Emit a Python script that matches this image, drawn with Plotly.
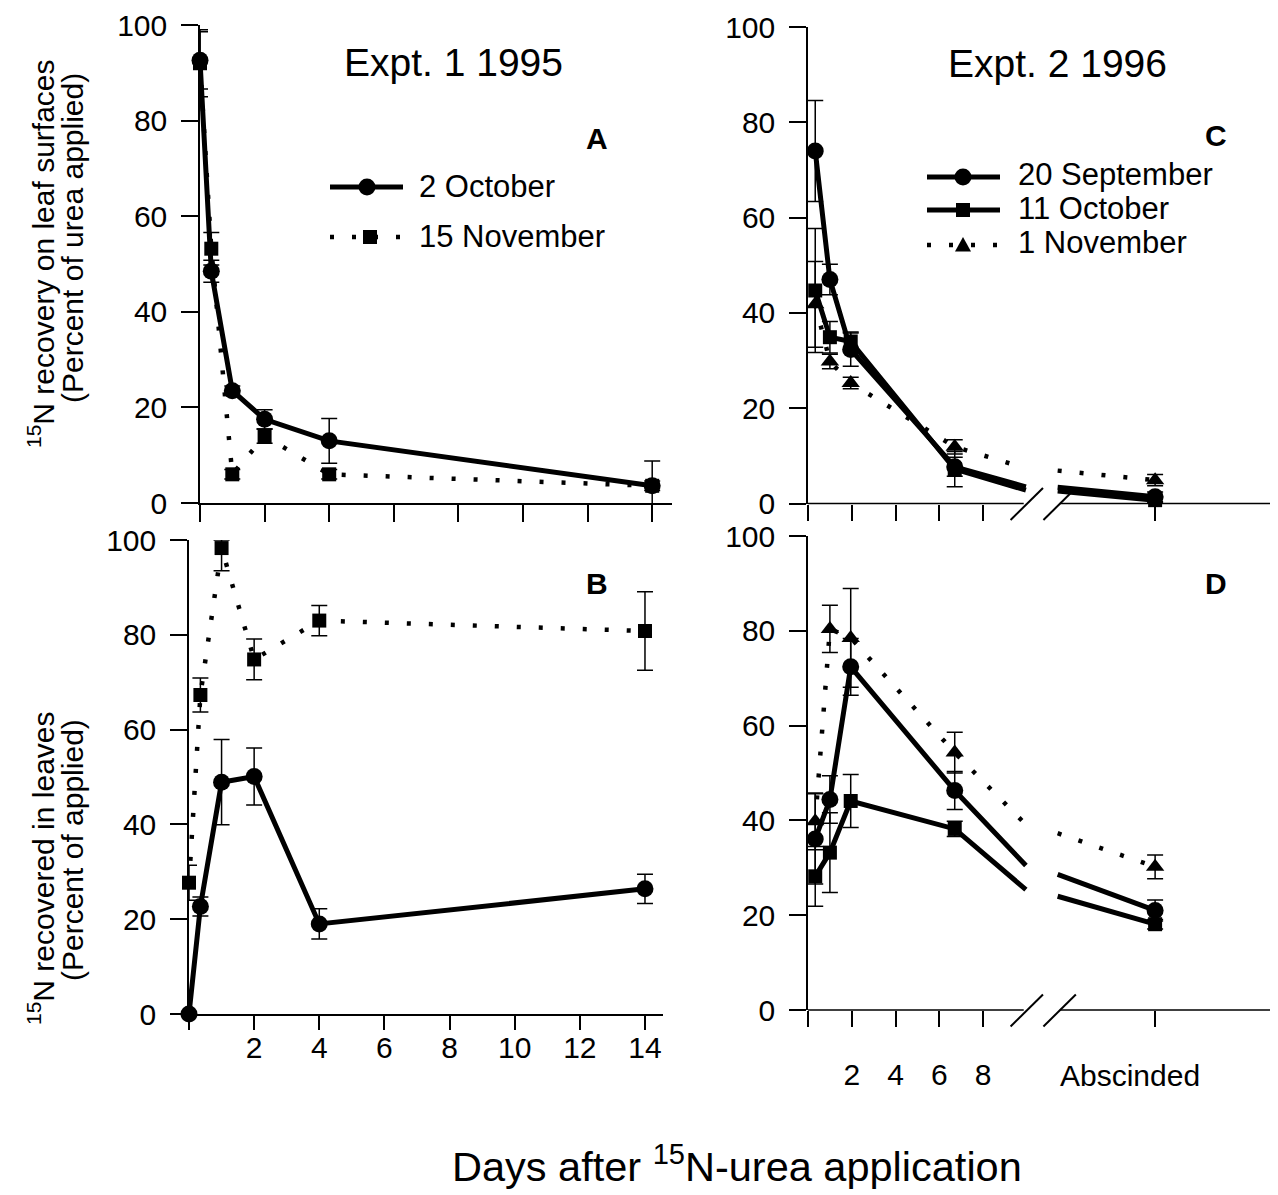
import plotly.graph_objects as go

W, H = 1278, 1195          # target screenshot size
OFF = 8                    # page body margin of the browser
FW, FH = W - OFF, H - OFF  # figure size so that it ends at the window edge
FONT = "Liberation Sans, Arial, Helvetica, sans-serif"

# ---------------- data ----------------
# Expt. 1 1995 (x = days after application)
days_expt1 = [0, 0.35, 1, 2, 4, 14]
expt1_ticks = [2, 4, 6, 8, 10, 12, 14]
a_oct2 = [92.6, 48.5, 23.5, 17.5, 13.0, 3.6]
a_oct2_err = [6.0, 2.3, 1.0, 2.0, 4.7, 5.2]
a_nov15 = [92.0, 53.2, 6.0, 14.0, 6.0, 3.6]
a_nov15_err = [7.0, 3.4, 1.0, 1.5, 1.0, 1.0]

b_oct2 = [0.0, 22.7, 48.9, 50.1, 19.0, 26.4]
b_oct2_err = [0.0, 2.0, 9.0, 6.0, 3.2, 3.1]
b_nov15 = [27.7, 67.3, 98.3, 74.8, 83.0, 80.8]
b_nov15_err_plus = [3.7, 3.6, 1.7, 4.3, 3.2, 8.3]
b_nov15_err_minus = [3.7, 3.6, 4.8, 4.3, 3.2, 8.3]

# Expt. 2 1996 (last x value is the "Abscinded" position past the axis break)
days_expt2 = [0.33, 1, 1.95, 6.7, 15.85]
break_x = [9.95, 11.4]          # line vertices on either side of the axis break
expt2_ticks = [2, 4, 6, 8]

c_sep20 = [74.0, 47.0, 32.3, 7.7, 1.4]
c_sep20_err = [10.6, 3.2, 3.5, 2.0, 1.0]
c_sep20_brk = [3.5, 3.4]
c_oct11 = [44.7, 34.9, 34.0, 7.2, 0.7]
c_oct11_err = [13.0, 3.3, 2.0, 3.7, 0.5]
c_oct11_brk = [2.8, 2.6]
c_nov1 = [41.8, 29.8, 25.3, 11.9, 4.9]
c_nov1_err = [9.0, 1.5, 1.2, 1.5, 1.2]
c_nov1_brk = [7.4, 6.9]

d_sep20 = [36.1, 44.4, 72.4, 46.3, 21.0]
d_sep20_err = [9.5, 5.0, 6.0, 4.0, 2.2]
d_sep20_brk = [30.5, 28.6]
d_oct11 = [28.2, 33.2, 44.1, 38.2, 18.1]
d_oct11_err = [6.3, 8.4, 5.6, 1.6, 1.0]
d_oct11_brk = [25.4, 24.0]
d_nov1 = [39.8, 80.4, 78.5, 54.3, 30.2]
d_nov1_err = [6.0, 5.0, 10.4, 4.3, 2.5]
d_nov1_brk = [39.1, 37.3]

y_ticks = [0, 20, 40, 60, 80, 100]

# ---------------- layout helpers ----------------
def px(x):
    return (x - OFF) / FW


def py(y):
    return 1 - (y - OFF) / FH


# panel boxes in screen pixels: left, right, top(=100), bottom(=0), px per day
panels = {
    "A": dict(l=200, r=672, t=25, b=503, ppd=32.3),
    "B": dict(l=189, r=663, t=540, b=1014, ppd=32.57),
    "C": dict(l=808, r=1278, t=27, b=503.5, ppd=21.9),
    "D": dict(l=808, r=1278, t=536, b=1010, ppd=21.9),
}

SOLID_W = 5
DOT_W = 4.5
DOT_DASH = "4px,18px"
MSIZE = {"circle": 17, "square": 14, "triangle-up": 16}

fig = go.Figure()


def add_series(xaxis, yaxis, x, y, err, symbol, dotted, err_minus=None):
    line = dict(color="black", width=DOT_W if dotted else SOLID_W,
                dash=DOT_DASH if dotted else "solid")
    ey = dict(type="data", array=err, visible=True, color="black",
              thickness=1.5, width=8)
    if err_minus is not None:
        ey["symmetric"] = False
        ey["arrayminus"] = err_minus
    fig.add_trace(go.Scatter(
        x=x, y=y, mode="lines+markers", xaxis=xaxis, yaxis=yaxis,
        line=line, error_y=ey, cliponaxis=False,
        marker=dict(symbol=symbol, size=MSIZE[symbol], color="black",
                    line=dict(width=0)),
        showlegend=False, hoverinfo="skip"))


def add_series_break(xaxis, yaxis, vals, err, brk, symbol, dotted):
    xs = days_expt2[:4] + [break_x[0], None, break_x[1], days_expt2[4]]
    ys = vals[:4] + [brk[0], None, brk[1], vals[4]]
    fig.add_trace(go.Scatter(
        x=xs, y=ys, mode="lines", xaxis=xaxis, yaxis=yaxis,
        connectgaps=False, cliponaxis=False,
        line=dict(color="black", width=DOT_W if dotted else SOLID_W,
                  dash=DOT_DASH if dotted else "solid"),
        showlegend=False, hoverinfo="skip"))
    fig.add_trace(go.Scatter(
        x=days_expt2, y=vals, mode="markers", xaxis=xaxis, yaxis=yaxis,
        cliponaxis=False,
        error_y=dict(type="data", array=err, visible=True, color="black",
                     thickness=1.5, width=8),
        marker=dict(symbol=symbol, size=MSIZE[symbol], color="black",
                    line=dict(width=0)),
        showlegend=False, hoverinfo="skip"))


# Panel A
add_series("x", "y", days_expt1, a_nov15, a_nov15_err, "square", True)
add_series("x", "y", days_expt1, a_oct2, a_oct2_err, "circle", False)
# Panel B
add_series("x2", "y2", days_expt1, b_nov15, b_nov15_err_plus, "square", True,
           err_minus=b_nov15_err_minus)
add_series("x2", "y2", days_expt1, b_oct2, b_oct2_err, "circle", False)
# Panel C
add_series_break("x3", "y3", c_nov1, c_nov1_err, c_nov1_brk, "triangle-up", True)
add_series_break("x3", "y3", c_oct11, c_oct11_err, c_oct11_brk, "square", False)
add_series_break("x3", "y3", c_sep20, c_sep20_err, c_sep20_brk, "circle", False)
# Panel D
add_series_break("x4", "y4", d_nov1, d_nov1_err, d_nov1_brk, "triangle-up", True)
add_series_break("x4", "y4", d_oct11, d_oct11_err, d_oct11_brk, "square", False)
add_series_break("x4", "y4", d_sep20, d_sep20_err, d_sep20_brk, "circle", False)

# ---------------- axes ----------------
tickfont = dict(family=FONT, size=30, color="black")
common = dict(showgrid=False, zeroline=False, ticks="outside", automargin=False,
              tickcolor="black", tickwidth=1.5, linecolor="black",
              linewidth=1.5, tickfont=tickfont, fixedrange=True)

layout_axes = {}
for i, key in enumerate(["A", "B", "C", "D"]):
    p = panels[key]
    sfx = "" if i == 0 else str(i + 1)
    xr = (p["r"] - p["l"]) / p["ppd"]
    p["xmax"] = xr
    xa = dict(common, domain=[px(p["l"]), min(1, px(p["r"]))], range=[0, xr],
              anchor="y" + sfx, showline=True)
    if key in ("A", "B"):
        tl = 17 if key == "A" else 14
        xa.update(tickvals=expt1_ticks, ticklen=tl,
                  minor=dict(tickvals=[0], ticks="outside", ticklen=tl,
                             tickcolor="black", tickwidth=1.5, showgrid=False))
        if key == "A":
            xa.update(showticklabels=False)
        else:
            xa.update(ticklabelstandoff=-8)
    else:
        xa.update(tickvals=expt2_ticks, ticklen=16, showline=False,
                  minor=dict(tickvals=[0, days_expt2[-1]], ticks="outside",
                             ticklen=16, tickcolor="black", tickwidth=1.5,
                             showgrid=False))
        if key == "C":
            xa.update(showticklabels=False)
        else:
            xa.update(ticklabelstandoff=22)
    ya = dict(common, domain=[py(p["b"]), py(p["t"])], range=[0, 100],
              anchor="x" + sfx, tickvals=y_ticks, ticklen=17, showline=True,
              ticklabelstandoff=8)
    layout_axes["xaxis" + sfx] = xa
    layout_axes["yaxis" + sfx] = ya

fig.update_layout(template="none", **layout_axes)

# ---------------- broken x axis (C, D) ----------------
shapes = []
for key in ("C", "D"):
    p = panels[key]
    xref = ("x3" if key == "C" else "x4") + " domain"
    def fx(day, p=p):
        return day / p["xmax"]
    y0 = py(p["b"])
    ln = dict(color="black", width=1.5)
    # axis line pieces
    shapes.append(dict(type="line", xref=xref, yref="paper", x0=0,
                       x1=fx(9.85), y0=y0, y1=y0, line=ln))
    shapes.append(dict(type="line", xref=xref, yref="paper", x0=fx(11.5),
                       x1=1, y0=y0, y1=y0, line=ln))
    # double slash
    for s in (9.25, 10.75):
        shapes.append(dict(type="line", xref=xref, yref="paper",
                           x0=fx(s), x1=fx(s + 1.48),
                           y0=py(p["b"] + 16.5), y1=py(p["b"] - 15.5),
                           line=dict(color="black", width=2)))

# ---------------- hand-drawn legends ----------------
def leg_line(x0, x1, y, dotted):
    shapes.append(dict(type="line", xref="paper", yref="paper",
                       x0=px(x0), x1=px(x1), y0=py(y), y1=py(y),
                       line=dict(color="black", width=DOT_W if dotted else SOLID_W,
                                 dash=DOT_DASH if dotted else "solid")))


def leg_marker(cx, cy, symbol):
    r = MSIZE[symbol] / 2
    if symbol == "circle":
        shapes.append(dict(type="circle", xref="paper", yref="paper",
                           x0=px(cx - r), x1=px(cx + r), y0=py(cy + r), y1=py(cy - r),
                           fillcolor="black", line=dict(width=0)))
    elif symbol == "square":
        shapes.append(dict(type="rect", xref="paper", yref="paper",
                           x0=px(cx - r), x1=px(cx + r), y0=py(cy + r), y1=py(cy - r),
                           fillcolor="black", line=dict(width=0)))
    else:
        path = "M {} {} L {} {} L {} {} Z".format(
            px(cx - r), py(cy + r * 0.8), px(cx + r), py(cy + r * 0.8),
            px(cx), py(cy - r))
        shapes.append(dict(type="path", xref="paper", yref="paper", path=path,
                           fillcolor="black", line=dict(width=0)))


annotations = []


def text(x, y, s, size=30, xanchor="center", bold=False, angle=0):
    annotations.append(dict(
        x=px(x), y=py(y), xref="paper", yref="paper", text=("<b>%s</b>" % s) if bold else s,
        showarrow=False, xanchor=xanchor, yanchor="middle", textangle=angle,
        font=dict(family=FONT, size=size, color="black")))


legend_a = [("2 October", "circle", False, 187), ("15 November", "square", True, 237)]
for label, sym, dotted, y in legend_a:
    leg_line(330, 403, y, dotted)
    leg_marker(367 if sym == "circle" else 370, y, sym)
    text(417, y, label, size=31, xanchor="left")

legend_c = [("20 September", "circle", False, 177), ("11 October", "square", False, 210),
            ("1 November", "triangle-up", True, 245)]
for label, sym, dotted, y in legend_c:
    leg_line(927, 1000, y, dotted)
    leg_marker(963, y, sym)
    text(1016, y - 2, label, size=31, xanchor="left")

# titles and panel letters
text(453, 62, "Expt. 1 1995", size=39)
text(1057, 63, "Expt. 2 1996", size=39)
text(597, 138, "A", size=30, bold=True)
text(597, 584, "B", size=30, bold=True)
text(1216, 135, "C", size=30, bold=True)
text(1216, 584, "D", size=30, bold=True)
text(1130, 1075, "Abscinded", size=30)

# axis titles
text(41, 254, "<sup>15</sup>N recovery on leaf surfaces", size=30, angle=-90)
text(72, 238, "(Percent of urea applied)", size=30, angle=-90)
text(41, 868, "<sup>15</sup>N recovered in leaves", size=30, angle=-90)
text(72, 850, "(Percent of applied)", size=30, angle=-90)
text(737, 1164, "Days after <sup>15</sup>N-urea application", size=41.5)

fig.update_layout(
    width=FW, height=FH, margin=dict(l=0, r=0, t=0, b=0, autoexpand=False),
    paper_bgcolor="white", plot_bgcolor="white", showlegend=False,
    shapes=shapes, annotations=annotations,
    font=dict(family=FONT, color="black"),
)

fig.write_html("out.html")
